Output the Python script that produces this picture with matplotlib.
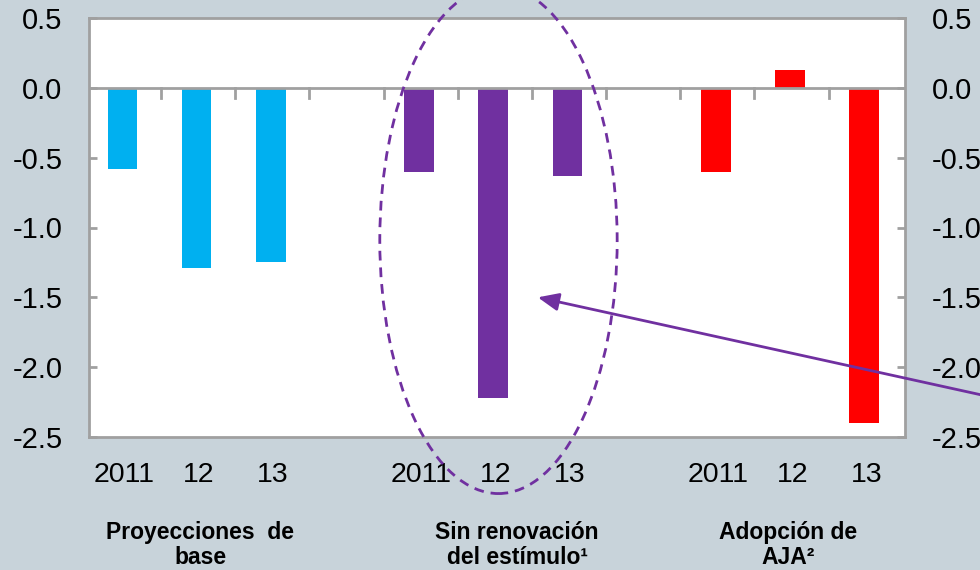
import numpy as np
import matplotlib.pyplot as plt
from matplotlib.patches import Ellipse
from matplotlib.transforms import blended_transform_factory

plt.rcParams['font.family'] = ['Liberation Sans', 'DejaVu Sans']

# datos
anios = ['2011', '12', '13']
grupos = ['Proyecciones  de\nbase', 'Sin renovación\ndel estímulo¹', 'Adopción de\nAJA²']
base = [-0.58, -1.29, -1.25]
sin_estimulo = [-0.60, -2.22, -0.63]
aja = [-0.60, 0.13, -2.40]
colores = ['#00b0f0', '#7030a0', '#ff0000']
yticks = [0.5, 0.0, -0.5, -1.0, -1.5, -2.0, -2.5]

fondo = '#c8d3da'
gris = '#a0a0a0'

fig = plt.figure(figsize=(9.8, 5.7), dpi=100, facecolor=fondo)
ax = fig.add_axes([89/980, 1 - 437/570, (905 - 89)/980, (437 - 18)/570])
ax.set_facecolor('white')

series = [base, sin_estimulo, aja]
for g, (vals, c) in enumerate(zip(series, colores)):
    x = np.arange(3) + 4*g
    ax.bar(x, vals, width=0.4, color=c, zorder=2)

ax.set_xlim(-0.45, 10.55)
ax.set_ylim(-2.5, 0.5)
ax.set_yticks(yticks)
ax.set_yticklabels([f'{v:.1f}' for v in yticks])
ax.set_xticks([])

for s in ax.spines.values():
    s.set_color(gris)
    s.set_linewidth(2)
ax.tick_params(axis='y', colors=gris, labelcolor='black', labelsize=21,
               direction='in', length=6, width=2, pad=19)

# linea de cero con marcas hacia abajo
ax.axhline(0, color=gris, lw=2, zorder=3)
trans = blended_transform_factory(ax.transData, ax.transAxes)
for xt in np.arange(0.52, 10.5, 1.0):
    ax.plot([xt, xt], [0, -0.07], color=gris, lw=2, zorder=3)

ax2 = ax.twinx()
ax2.set_ylim(-2.5, 0.5)
ax2.set_yticks(yticks)
ax2.set_yticklabels([f'{v:.1f}' for v in yticks])
for s in ax2.spines.values():
    s.set_visible(False)
ax2.tick_params(axis='y', colors=gris, labelcolor='black', labelsize=21,
                direction='in', length=6, width=2, pad=19.5)

# etiquetas de categorias
for g in range(3):
    for i, a in enumerate(anios):
        ax.text(4*g + i + 0.03, -0.091, a, transform=trans, ha='center',
                va='center', fontsize=20.5)
gx = [1.05, 5.32, 8.98]
for g, lab in enumerate(grupos):
    ax.text(gx[g], -0.258, lab, transform=trans, ha='center', va='center',
            fontsize=16.5, fontweight='bold', linespacing=1.1)

# elipse y flecha
el = Ellipse((5.07, -1.09), 3.2, 3.63, fill=False, ec='#7030a0', lw=2,
             ls=(0, (3.5, 2.5)), clip_on=False, zorder=4)
ax.add_patch(el)
ax.annotate('', xy=(5.6, -1.5), xycoords='data',
            xytext=(1000, 570 - 399), textcoords='figure pixels',
            arrowprops=dict(arrowstyle='-|>,head_length=0.7,head_width=0.3',
                            color='#7030a0', lw=2, mutation_scale=18,
                            shrinkA=0, shrinkB=0),
            annotation_clip=False, zorder=5)

fig.savefig('out.png', dpi=100, facecolor=fondo)
